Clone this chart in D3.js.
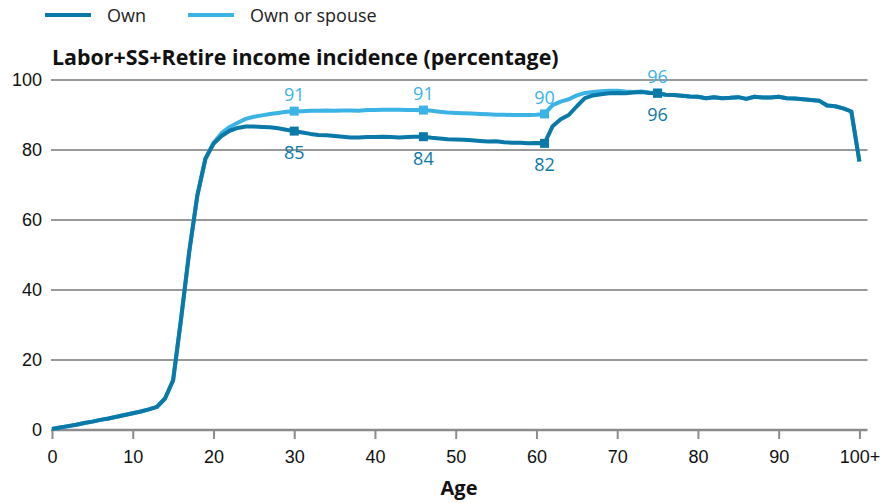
<!DOCTYPE html>
<html><head><meta charset="utf-8">
<script src="https://cdn.jsdelivr.net/npm/d3@7"></script>
<style>body{margin:0;background:#fff}svg{display:block;font-family:"Open Sans","Noto Sans",sans-serif}</style>
</head><body><svg id="c" width="884" height="503"></svg>
<script>
const ages = d3.range(0, 101);
const xTickLabels = ["0","10","20","30","40","50","60","70","80","90","100+"];
const yTicks = [0,20,40,60,80,100];
const seriesNames = ["Own","Own or spouse"];
const own = [0.3,0.7,1.1,1.5,2.0,2.4,2.9,3.3,3.8,4.3,
4.8,5.3,5.9,6.6,9.0,14.2,32,51,67,77.5,
81.8,84.0,85.5,86.3,86.7,86.7,86.6,86.5,86.2,85.8,
85.4,85.0,84.6,84.3,84.2,84.0,83.8,83.6,83.6,83.7,
83.7,83.8,83.7,83.6,83.7,83.8,83.8,83.5,83.3,83.1,
83.0,82.9,82.8,82.6,82.4,82.5,82.2,82.1,82.1,81.9,
82.0,81.9,86.8,88.8,90.0,92.5,94.8,95.6,95.9,96.2,
96.3,96.2,96.4,96.6,96.3,96.2,95.8,95.7,95.5,95.3,
95.2,94.8,95.1,94.8,94.9,95.1,94.6,95.2,95.0,95.0,
95.2,94.8,94.7,94.5,94.3,94.1,92.7,92.5,91.9,91.0,
76.7];
const ownSpouse = [0.3,0.7,1.1,1.5,2.0,2.4,2.9,3.3,3.8,4.3,
4.8,5.3,5.9,6.6,9.0,14.2,32,51,67,77.5,
82.0,84.8,86.6,87.8,88.9,89.5,89.9,90.3,90.6,90.9,
91.1,91.1,91.2,91.2,91.3,91.2,91.3,91.3,91.2,91.4,
91.4,91.5,91.5,91.5,91.4,91.4,91.4,91.2,90.9,90.7,
90.6,90.5,90.4,90.3,90.2,90.1,90.1,90.0,90.0,90.0,
90.1,90.3,92.8,93.8,94.5,95.6,96.3,96.6,96.8,96.9,
96.9,96.7,96.6,96.7,96.4,96.3,95.8,95.7,95.5,95.3,
95.2,94.8,95.1,94.8,94.9,95.1,94.6,95.2,95.0,95.0,
95.2,94.8,94.7,94.5,94.3,94.1,92.7,92.5,91.9,91.0,
76.7];
const markerAges = [30,46,61,75];
const ownLabels = ["85","84","82","96"];
const spouseLabels = ["91","91","90","96"];

const colOwn = "#0b79a8", colSp = "#3cb3e5";
const svg = d3.select("#c");
const x = d3.scaleLinear().domain([0,101]).range([52,867.5]);
const y = d3.scaleLinear().domain([0,100]).range([430,80]);

// gridlines
svg.append("g").selectAll("line").data(yTicks.filter(d=>d>0)).join("line")
  .attr("x1",51).attr("x2",867.5).attr("y1",d=>y(d)).attr("y2",d=>y(d))
  .attr("stroke","#999").attr("stroke-width",2);

// y axis labels
const ya = svg.append("g").attr("transform","translate(42,0)")
  .call(d3.axisLeft(y).tickValues(yTicks).tickSize(0).tickPadding(0));
ya.select(".domain").remove();
ya.selectAll("text").attr("font-size",18).attr("font-family","inherit").attr("fill","#111");

// x axis
const xa = svg.append("g").attr("transform","translate(0,430)")
  .call(d3.axisBottom(x).tickValues(d3.range(0,101,10)).tickSize(9).tickPadding(11)
    .tickFormat((d,i)=>xTickLabels[i]));
xa.select(".domain").attr("d","M51,0H867.5").attr("stroke","#8c8c8c").attr("stroke-width",2.5);
xa.selectAll(".tick line").attr("stroke","#8c8c8c").attr("stroke-width",2);
xa.selectAll("text").attr("font-size",18).attr("font-family","inherit").attr("fill","#111");

svg.append("text").attr("x",459).attr("y",495).attr("text-anchor","middle")
  .attr("font-size",20).attr("font-weight","bold").attr("fill","#111").text("Age");

svg.append("text").attr("x",52).attr("y",65)
  .attr("font-size",21.4).attr("font-weight","bold").attr("fill","#111")
  .text("Labor+SS+Retire income incidence (percentage)");

// legend
const leg = [{n:seriesNames[0],c:colOwn,x:45},{n:seriesNames[1],c:colSp,x:188}];
leg.forEach(l=>{
  svg.append("line").attr("x1",l.x).attr("x2",l.x+46).attr("y1",15).attr("y2",15)
    .attr("stroke",l.c).attr("stroke-width",4);
  svg.append("text").attr("x",l.x+62).attr("y",21.5).attr("font-size",18).attr("fill","#222").text(l.n);
});

const line = d3.line().x((d,i)=>x(ages[i])).y(d=>y(d));
svg.append("path").datum(ownSpouse).attr("d",line).attr("fill","none")
  .attr("stroke",colSp).attr("stroke-width",4).attr("stroke-linejoin","round");
svg.append("path").datum(own).attr("d",line).attr("fill","none")
  .attr("stroke",colOwn).attr("stroke-width",4).attr("stroke-linejoin","round");

// markers
const ms = 9;
svg.append("g").selectAll("rect").data(markerAges).join("rect")
  .attr("x",d=>x(d)-ms/2).attr("y",d=>y(ownSpouse[d])-ms/2).attr("width",ms).attr("height",ms).attr("fill",colSp);
svg.append("g").selectAll("rect").data(markerAges).join("rect")
  .attr("x",d=>x(d)-ms/2).attr("y",d=>y(own[d])-ms/2).attr("width",ms).attr("height",ms).attr("fill",colOwn);

svg.append("g").selectAll("text").data(markerAges).join("text")
  .attr("x",d=>x(d)).attr("y",d=>y(ownSpouse[d])-10).attr("text-anchor","middle")
  .attr("font-size",18).attr("fill",colSp).text((d,i)=>spouseLabels[i]);
svg.append("g").selectAll("text").data(markerAges).join("text")
  .attr("x",d=>x(d)).attr("y",d=>y(own[d])+28).attr("text-anchor","middle")
  .attr("font-size",18).attr("fill",colOwn).text((d,i)=>ownLabels[i]);
</script></body></html>
